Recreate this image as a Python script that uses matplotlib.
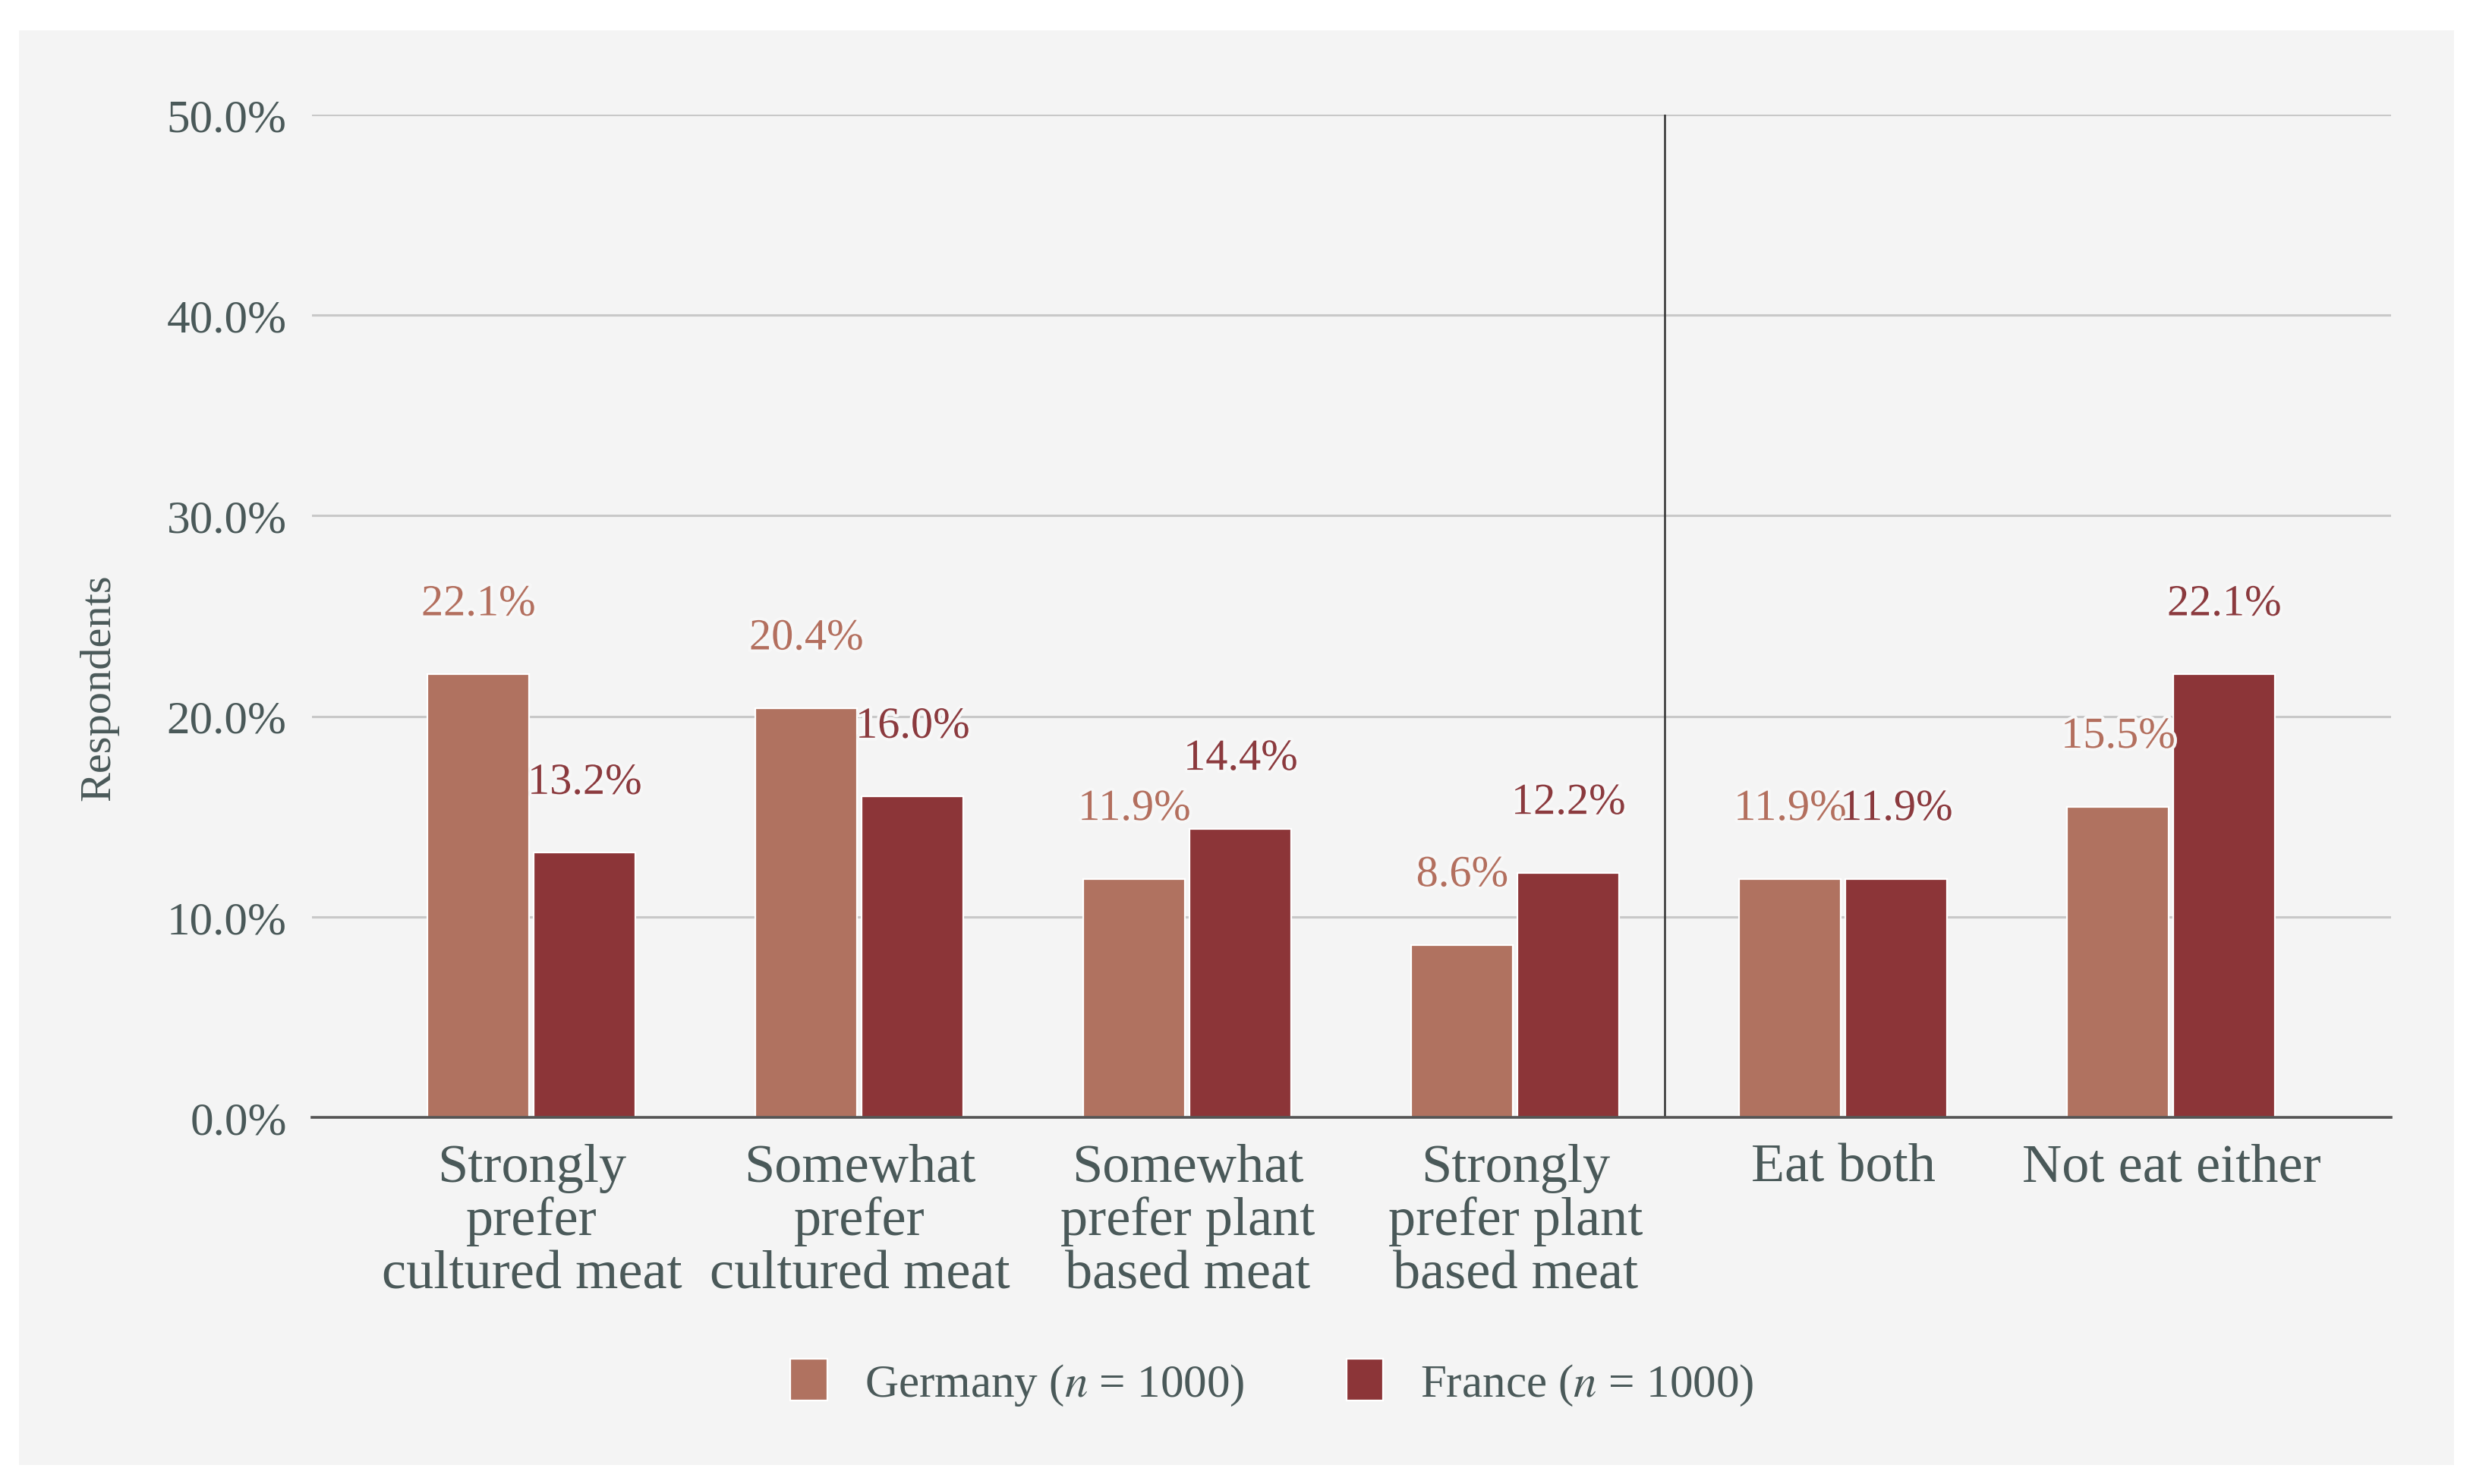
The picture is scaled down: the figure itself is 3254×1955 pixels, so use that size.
import matplotlib.pyplot as plt
import matplotlib.patheffects as pe
from matplotlib.patches import Rectangle
import numpy as np

plt.rcParams['font.family'] = ['Liberation Serif', 'DejaVu Serif']
plt.rcParams['mathtext.fontset'] = 'stix'

categories = ['Strongly\nprefer\ncultured meat', 'Somewhat\nprefer\ncultured meat',
              'Somewhat\nprefer plant\nbased meat', 'Strongly\nprefer plant\nbased meat',
              'Eat both', 'Not eat either']
germany = [22.1, 20.4, 11.9, 8.6, 11.9, 15.5]
france = [13.2, 16.0, 14.4, 12.2, 11.9, 22.1]
yticks = [0, 10, 20, 30, 40, 50]

c_ger = '#b07260'
c_fra = '#8c3538'
c_ger_lbl = '#b36f5e'
c_fra_lbl = '#8b3a3e'
txt = '#4a5959'

fig = plt.figure(figsize=(16.27, 9.78), dpi=200)
fig.patches.append(Rectangle((0.0077, 0.013), 0.9859, 0.966, transform=fig.transFigure,
                             facecolor='#f4f4f4', edgecolor='none', zorder=-10))
ax = fig.add_axes([0.1263, 0.2468, 0.8417, 0.6755])
ax.set_facecolor('none')

x = np.arange(len(categories))
w = 0.31
off = 0.162
b1 = ax.bar(x - off, germany, w, color=c_ger, edgecolor='white', linewidth=0.8,
            label='Germany ($\\it{n}$ = 1000)', zorder=3)
b2 = ax.bar(x + off, france, w, color=c_fra, edgecolor='white', linewidth=0.8,
            label='France ($\\it{n}$ = 1000)', zorder=3)

halo = [pe.withStroke(linewidth=3, foreground='#f7f7f7')]
for bars, vals, col in [(b1, germany, c_ger_lbl), (b2, france, c_fra_lbl)]:
    for r, v in zip(bars, vals):
        ax.annotate(f'{v:.1f}%', (r.get_x() + r.get_width() / 2, v),
                    xytext=(0, 33), textcoords='offset points',
                    ha='center', va='center', fontsize=21, color=col,
                    path_effects=halo, zorder=5)

ax.axvline(3.455, color='#333333', linewidth=0.9, zorder=4)

ax.set_xlim(-0.67, 5.67)
ax.set_ylim(0, 50)
ax.set_yticks(yticks)
ax.set_yticklabels([f'{t:.1f}%' for t in yticks])
ax.set_xticks(x)
ax.set_xticklabels(categories, linespacing=1.1)
ax.tick_params(axis='y', length=0, pad=12, labelsize=22, labelcolor=txt)
ax.tick_params(axis='x', length=0, pad=12, labelsize=26, labelcolor=txt)
ax.grid(axis='y', color='#c8c8c8', linewidth=1.1, zorder=0)
for s in ['top', 'right', 'left']:
    ax.spines[s].set_visible(False)
ax.spines['bottom'].set_color('#555555')
ax.spines['bottom'].set_linewidth(1.3)
ax.spines['bottom'].set_zorder(4)

fig.text(0.040, 0.537, 'Respondents', rotation=90, ha='center', va='center',
         fontsize=21, color=txt)

fig.legend(loc='center', bbox_to_anchor=(0.515, 0.068), ncol=2, frameon=False,
           fontsize=22, labelcolor=txt, handlelength=0.8, handleheight=1.0,
           columnspacing=2.2, handletextpad=0.8)

plt.savefig('out.png', dpi=200)
